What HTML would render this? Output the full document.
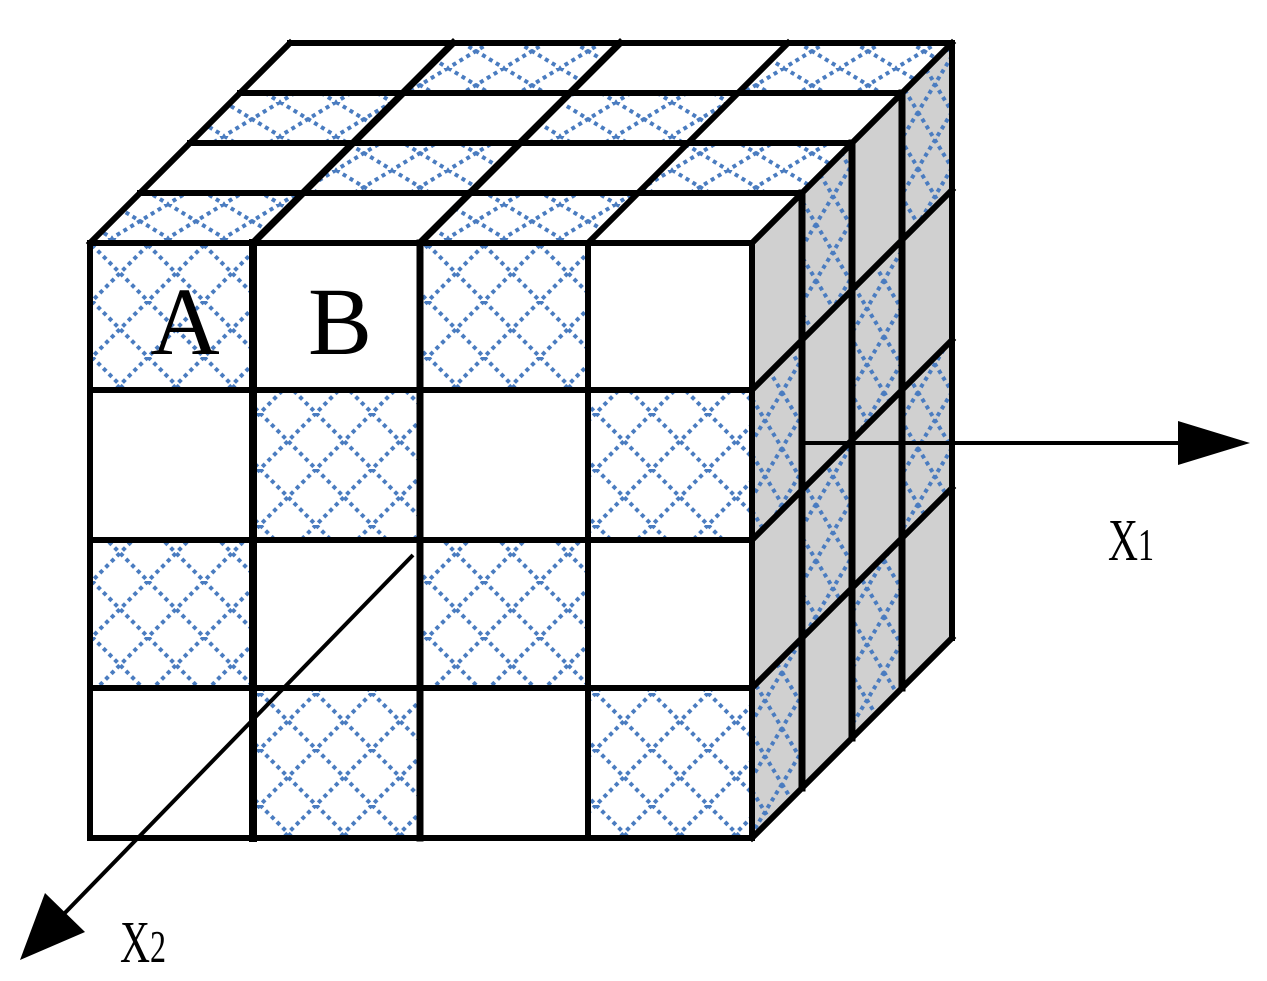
<!DOCTYPE html>
<html><head><meta charset="utf-8"><style>
html,body{margin:0;padding:0;background:#fff;}
svg{display:block;}
</style></head><body>
<svg width="1267" height="981" viewBox="0 0 1267 981" xmlns="http://www.w3.org/2000/svg">
<defs>
<pattern id="h" width="56" height="56" patternUnits="userSpaceOnUse" x="92" y="245">
<path d="M0,0 L56,56 M56,0 L0,56" stroke="#4a7cc0" stroke-width="4" stroke-dasharray="4,4" fill="none"/>
</pattern>
<pattern id="ht" width="56" height="34" patternUnits="userSpaceOnUse">
<path d="M0,0 L56,34 M56,0 L0,34" stroke="#4a7cc0" stroke-width="4" stroke-dasharray="4,4" fill="none"/>
</pattern>
<pattern id="hr" width="34" height="56" patternUnits="userSpaceOnUse">
<path d="M0,0 L34,56 M34,0 L0,56" stroke="#4a7cc0" stroke-width="4" stroke-dasharray="4,4" fill="none"/>
</pattern>
</defs>
<rect x="90" y="243" width="662" height="595" fill="#fff"/>
<polygon points="90,243 752,243 952,43 293,43" fill="#fff"/>
<polygon points="752,243 952,43 952,638 752,838" fill="#d0d0d0"/>
<g fill="url(#h)">
<rect x="90" y="243" width="163" height="147"/>
<rect x="420" y="243" width="168" height="147"/>
<rect x="253" y="390" width="167" height="150"/>
<rect x="588" y="390" width="164" height="150"/>
<rect x="90" y="540" width="163" height="148"/>
<rect x="420" y="540" width="168" height="148"/>
<rect x="253" y="688" width="167" height="150"/>
<rect x="588" y="688" width="164" height="150"/>
</g>
<g fill="url(#ht)">
<polygon points="90,243 253,243 303,193 140,193"/>
<polygon points="420,243 588,243 638,193 470,193"/>
<polygon points="303,193 470,193 520,143 353,143"/>
<polygon points="638,193 802,193 852,143 688,143"/>
<polygon points="190,143 353,143 403,93 240,93"/>
<polygon points="520,143 688,143 738,93 570,93"/>
<polygon points="403,93 570,93 620,43 453,43"/>
<polygon points="738,93 902,93 952,43 788,43"/>
</g>
<g fill="url(#hr)">
<polygon points="752,390 802,340 802,490 752,540"/>
<polygon points="752,688 802,638 802,788 752,838"/>
<polygon points="802,193 852,143 852,290 802,340"/>
<polygon points="802,490 852,440 852,588 802,638"/>
<polygon points="852,290 902,240 902,390 852,440"/>
<polygon points="852,588 902,538 902,688 852,738"/>
<polygon points="902,93 952,43 952,190 902,240"/>
<polygon points="902,390 952,340 952,488 902,538"/>
</g>
<g stroke="#000" stroke-width="6" fill="none" stroke-linecap="square">
<line x1="90" y1="243" x2="752" y2="243"/>
<line x1="90" y1="390" x2="752" y2="390"/>
<line x1="90" y1="540" x2="752" y2="540"/>
<line x1="90" y1="688" x2="752" y2="688"/>
<line x1="90" y1="838" x2="752" y2="838"/>
<line x1="90" y1="243" x2="90" y2="838"/>
<line x1="253" y1="243" x2="253" y2="838" stroke-width="8"/>
<line x1="420" y1="243" x2="420" y2="838" stroke-width="7"/>
<line x1="588" y1="243" x2="588" y2="838"/>
<line x1="752" y1="243" x2="752" y2="838"/>
<line x1="140" y1="193" x2="802" y2="193"/>
<line x1="190" y1="143" x2="852" y2="143"/>
<line x1="240" y1="93" x2="902" y2="93"/>
<line x1="290" y1="43" x2="952" y2="43"/>
<line x1="90" y1="243" x2="290" y2="43"/>
<line x1="253" y1="243" x2="453" y2="43" stroke-width="7"/>
<line x1="420" y1="243" x2="620" y2="43" stroke-width="7"/>
<line x1="588" y1="243" x2="788" y2="43"/>
<line x1="752" y1="243" x2="952" y2="43"/>
<line x1="802" y1="193" x2="802" y2="788" stroke-width="7"/>
<line x1="852" y1="143" x2="852" y2="738" stroke-width="7"/>
<line x1="902" y1="93" x2="902" y2="688" stroke-width="7"/>
<line x1="952" y1="43" x2="952" y2="638"/>
<line x1="752" y1="390" x2="952" y2="190"/>
<line x1="752" y1="540" x2="952" y2="340"/>
<line x1="752" y1="688" x2="952" y2="488"/>
<line x1="752" y1="838" x2="952" y2="638"/>
</g>
<g stroke="#000" stroke-width="4">
<line x1="800" y1="443" x2="1190" y2="443"/>
<line x1="413" y1="555" x2="60" y2="918"/>
</g>
<polygon points="1250,443 1178,421 1178,465" fill="#000"/>
<polygon points="20,960 45,893 85,932" fill="#000"/>
<g font-family="'Liberation Serif',serif" fill="#000">
<text x="185" y="354" font-size="96" text-anchor="middle">A</text>
<text x="340" y="354" font-size="96" text-anchor="middle">B</text>
<text x="1108" y="560" font-size="52" transform="translate(1108,560) scale(0.8,1.15) translate(-1108,-560)">X<tspan font-size="40">1</tspan></text>
<text x="120" y="962" font-size="52" transform="translate(120,962) scale(0.8,1.15) translate(-120,-962)">X<tspan font-size="40">2</tspan></text>
</g>
</svg>
</body></html>
